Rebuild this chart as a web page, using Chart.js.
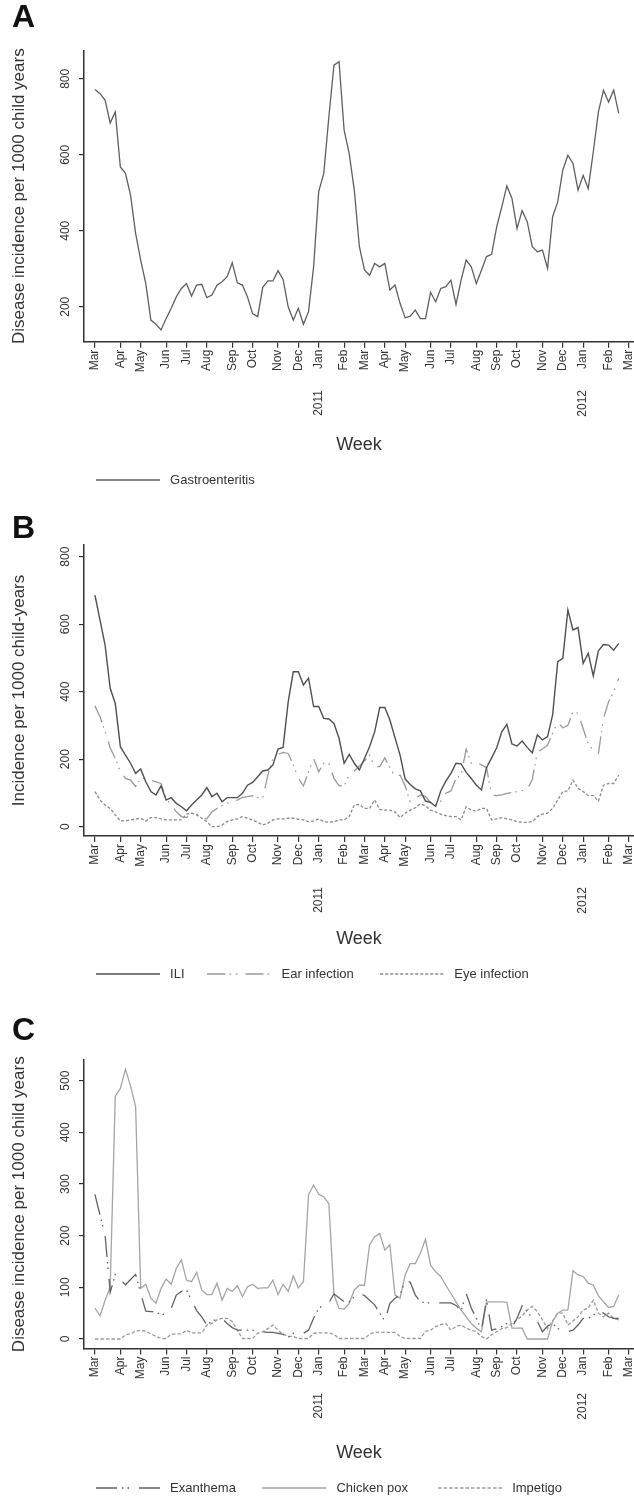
<!DOCTYPE html>
<html><head><meta charset="utf-8">
<script src="https://cdn.jsdelivr.net/npm/chart.js@4.4.1/dist/chart.umd.min.js"></script>
<style>
html,body{margin:0;padding:0;background:#fff;overflow:hidden;width:634px;height:1497px;}
.panel{position:absolute;left:0;width:634px;}
canvas{display:block;}
</style></head><body>
<div class="panel" style="top:0px;height:500px"><canvas id="cA" width="634" height="500"></canvas></div>
<div class="panel" style="top:500px;height:500px"><canvas id="cB" width="634" height="500"></canvas></div>
<div class="panel" style="top:1000px;height:508px"><canvas id="cC" width="634" height="508"></canvas></div>
<script>
// ---- x-axis ticks (week index of each month tick) ----
const monthTickWeeks = [0,5,9,14,18,22,27,31,36,40,44,49,53,57,61,66,70,75,79,83,88,92,96,101,105];
const monthTickLabels = ['Mar','Apr','May','Jun','Jul','Aug','Sep','Oct','Nov','Dec','Jan','Feb','Mar','Apr','May','Jun','Jul','Aug','Sep','Oct','Nov','Dec','Jan','Feb','Mar'];
const yearTickWeeks = [44, 96];
const yearTickLabels = ['2011', '2012'];

// ---- Panel A ----
const gastroenteritis = [772,761,744,684,713,568,551,494,393,323,
261,165,154,139,169,196,226,248,261,228,
257,259,224,231,257,266,279,316,263,257,
226,182,174,251,268,268,295,272,200,165,
196,154,187,305,503,551,700,836,845,665,
603,507,358,297,283,314,305,314,244,257,
209,171,175,191,169,169,238,213,248,253,
270,206,270,323,305,261,296,332,338,410,
463,518,485,406,453,424,358,345,349,301,
437,476,560,599,577,507,546,511,608,713,
770,739,770,709];
const ticksA = [200,400,600,800];

// ---- Panel B ----
const ili = [686,612,538,410,365,237,212,188,158,171,
133,104,94,121,79,86,69,59,47,64,
79,94,116,89,99,74,86,86,86,99,
123,131,148,165,168,183,230,235,370,459,
459,420,440,356,356,321,319,306,262,188,
214,188,168,202,237,281,353,353,316,264,
212,141,125,112,106,76,72,60,106,135,
158,188,186,161,143,123,109,175,204,234,
281,303,245,239,254,235,219,272,257,267,
331,489,499,642,583,590,484,514,447,521,
540,538,523,543];
const earInfection = [358,326,281,234,202,163,143,138,119,143,
143,138,133,128,84,64,44,30,27,40,
40,25,23,44,54,62,69,74,79,87,
89,92,87,84,153,202,214,220,217,183,
143,121,163,202,163,188,188,143,121,121,
153,165,180,195,212,178,178,204,175,148,
153,121,74,84,94,89,72,64,76,99,
106,143,153,230,188,191,183,175,94,92,
94,99,101,104,107,109,140,222,230,242,
277,309,293,300,341,336,291,244,227,217,
321,370,400,440];
const eyeInfection = [104,79,64,54,35,17,17,20,23,25,
17,27,27,23,20,20,20,20,37,40,
35,25,15,0,0,5,15,20,23,30,
25,20,13,5,10,20,23,23,25,25,
22,20,15,17,23,15,13,15,20,20,
30,64,66,54,54,79,51,49,49,44,
27,40,49,56,68,62,49,44,37,33,
30,30,20,59,49,46,54,54,20,23,
27,23,20,15,13,13,15,30,37,40,
54,79,104,106,138,114,104,92,92,76,
123,128,128,153];
const ticksB = [0,200,400,600,800];

// ---- Panel C ----
const exanthema = [280,240,200,90,125,115,105,115,125,88,
54,53,53,46,50,59,85,92,95,75,
55,43,27,35,38,40,30,22,17,17,
17,17,14,14,13,13,11,9,3,11,
13,11,17,40,60,65,70,87,80,72,
72,82,88,84,75,66,50,35,69,79,
85,114,110,85,72,70,70,70,70,70,
70,65,55,88,60,40,17,77,17,20,
24,30,22,40,64,53,40,34,14,25,
30,20,17,14,17,27,40,40,46,56,
50,43,40,40];
const chickenPox = [60,45,75,100,470,485,522,490,450,98,
106,79,69,98,116,106,137,153,114,111,
129,95,86,86,108,75,98,92,103,82,
101,106,98,99,99,114,86,106,92,122,
99,111,279,298,280,275,262,86,59,58,
69,95,104,104,182,198,204,172,182,85,
79,124,146,146,166,193,143,130,121,104,
88,72,56,43,30,21,14,72,72,72,
72,71,21,21,21,0,0,0,0,0,
34,50,56,56,132,124,121,108,104,84,
72,61,63,85];
const impetigo = [0,0,0,0,0,0,8,10,15,17,
15,10,5,1,1,9,10,10,17,12,
12,12,27,30,37,40,40,34,17,1,
1,1,11,14,20,27,17,9,5,5,
1,1,1,11,12,12,12,9,1,1,
1,1,1,1,9,13,13,13,13,13,
5,1,1,1,1,15,17,24,28,30,
17,24,27,21,17,14,5,0,8,14,
20,22,30,37,45,56,63,53,37,20,
35,50,50,27,35,43,56,60,75,50,
43,50,40,37];
const ticksC = [0,100,200,300,400,500];

Chart.defaults.font.family = "'Liberation Sans', Arial, Helvetica, sans-serif";
Chart.defaults.color = '#333';
const AXIS = '#333';
const X_MIN = -2.15, X_MAX = 106;
const SWATCH_W = 64;

function series(values) { return values.map((v, i) => ({x: i, y: v})); }

// small canvas used as the legend symbol (a line sample with the series dash pattern)
function lineSwatch(color, dash, width) {
  const c = document.createElement('canvas');
  c.width = SWATCH_W; c.height = 4;
  const g = c.getContext('2d');
  g.strokeStyle = color; g.lineWidth = width; g.setLineDash(dash);
  g.beginPath(); g.moveTo(0, 2); g.lineTo(SWATCH_W, 2); g.stroke();
  return c;
}

function ds(label, values, color, dash, width) {
  const w = width || 1.3;
  return { label, data: series(values), borderColor: color, backgroundColor: color,
    borderDash: dash, borderWidth: w, pointRadius: 0, pointHoverRadius: 0,
    pointStyle: lineSwatch(color, dash, w + 0.2),
    tension: 0, fill: false };
}

function makePanel(id, cfg) {
  new Chart(document.getElementById(id), {
    type: 'line',
    data: { datasets: cfg.datasets },
    options: {
      responsive: false, animation: false, events: [],
      layout: { padding: { left: 12, right: 0, top: 0, bottom: cfg.padBottom } },
      plugins: {
        title: { display: true, text: cfg.letter, align: 'start', color: '#111',
          font: { size: 32, weight: 'bold', lineHeight: 1 },
          padding: { top: cfg.tTop, bottom: cfg.tBottom } },
        legend: { display: true, position: 'bottom', align: 'start', fullSize: false,
          labels: { usePointStyle: true, pointStyleWidth: SWATCH_W, padding: 12,
            color: '#333', font: { size: 13 },
            generateLabels: (chart) => {
              const items = Chart.defaults.plugins.legend.labels.generateLabels(chart);
              items.forEach((it, i) => { it.text = ' ' + it.text + ' '.repeat(cfg.trail[i] || 0); });
              return items;
            } } },
        tooltip: { enabled: false }
      },
      scales: {
        x: { type: 'linear', position: 'bottom', weight: 0, min: X_MIN, max: X_MAX,
          afterBuildTicks: (s) => { s.ticks = monthTickWeeks.map(v => ({ value: v })); },
          afterFit: (s) => { s.height = 30; s.paddingLeft = 0; s.paddingRight = 0; },
          ticks: { autoSkip: false, minRotation: 90, maxRotation: 90, padding: 2, color: '#333',
            font: { size: 12 },
            callback: (v) => { const i = monthTickWeeks.indexOf(v); return i >= 0 ? monthTickLabels[i] : ''; } },
          grid: { display: true, drawOnChartArea: false, drawTicks: true, tickLength: 6, color: AXIS, lineWidth: 1.2 },
          border: { display: true, color: AXIS, width: 1.5 } },
        x2: { type: 'linear', position: 'bottom', weight: 1, min: X_MIN, max: X_MAX,
          afterBuildTicks: (s) => { s.ticks = yearTickWeeks.map(v => ({ value: v })); },
          afterFit: (s) => { s.height = cfg.x2h; s.paddingLeft = 0; s.paddingRight = 0; },
          ticks: { autoSkip: false, minRotation: 90, maxRotation: 90, padding: cfg.yearPad, color: '#333',
            font: { size: 12 },
            callback: (v) => { const i = yearTickWeeks.indexOf(v); return i >= 0 ? yearTickLabels[i] : ''; } },
          grid: { display: false, drawTicks: false },
          border: { display: false },
          title: { display: true, text: 'Week', color: '#333', font: { size: 18 }, padding: { top: 0, bottom: 5.7 } } },
        y: { type: 'linear', position: 'left', min: cfg.yMin, max: cfg.yMax,
          afterBuildTicks: (s) => { s.ticks = cfg.yTicks.map(v => ({ value: v })); },
          afterFit: (s) => { s.width = 72; s.paddingTop = 0; s.paddingBottom = 0; },
          ticks: { autoSkip: false, minRotation: 90, maxRotation: 90, crossAlign: 'center', padding: 3,
            color: '#333', font: { size: 12 } },
          grid: { display: true, drawOnChartArea: false, drawTicks: true, tickLength: 5, color: AXIS, lineWidth: 1.2 },
          border: { display: true, color: AXIS, width: 1.5 },
          title: { display: true, text: cfg.yTitle, color: '#333', font: { size: 17 }, padding: { top: -3, bottom: 0 } } }
      }
    }
  });
}

makePanel('cA', {
  letter: 'A', yTitle: 'Disease incidence per 1000 child years',
  yMin: 108, yMax: 874, yTicks: ticksA,
  tTop: 2.5, tBottom: 16.2, padBottom: 3.5, x2h: 89.8, yearPad: 18.3, trail: [0],
  datasets: [ ds('Gastroenteritis', gastroenteritis, '#5f5f5f', [], 1.3) ]
});
makePanel('cB', {
  letter: 'B', yTitle: 'Incidence per 1000 child-years',
  yMin: -27.6, yMax: 834.7, yTicks: ticksB,
  tTop: 13, tBottom: 0, padBottom: 9.5, x2h: 89.5, yearPad: 21, trail: [3, 4, 0],
  datasets: [
    ds('ILI', ili, '#505050', [], 1.4),
    ds('Ear infection', earInfection, '#9a9a9a', [18, 4, 1.5, 5, 1.5, 8], 1.3),
    ds('Eye infection', eyeInfection, '#8a8a8a', [3, 2], 1.3)
  ]
});
makePanel('cC', {
  letter: 'C', yTitle: 'Disease incidence per 1000 child years',
  yMin: -18.4, yMax: 540, yTicks: ticksC,
  tTop: 15, tBottom: 13, padBottom: 3.5, x2h: 91, yearPad: 14.5, trail: [4, 5, 0],
  datasets: [
    ds('Exanthema', exanthema, '#626262', [21, 5, 1.5, 4, 1.5, 10], 1.3),
    ds('Chicken pox', chickenPox, '#a5a5a5', [], 1.3),
    ds('Impetigo', impetigo, '#9a9a9a', [3.5, 2], 1.3)
  ]
});
</script>
</body></html>
